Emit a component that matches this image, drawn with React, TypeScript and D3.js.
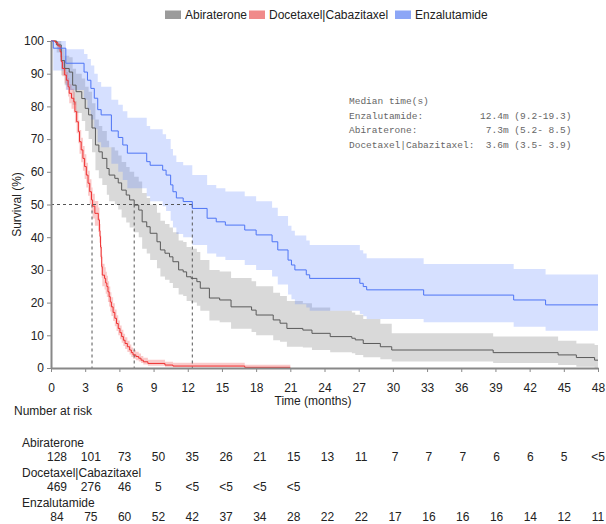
import React, { useEffect, useRef } from 'react';
import * as d3 from 'd3';

// [time (months), survival %, lower CI, upper CI] at each step
const abirateroneKm = [
  [0, 100, 100, 100], [0.5, 98.8, 96.5, 100], [0.9, 94, 89.5, 97.5], [1.2, 91.6, 86.5, 95.5],
  [1.6, 90.5, 85, 95], [1.9, 86.5, 80.5, 91.5], [2.2, 84.5, 78, 90], [2.7, 82.4, 75.5, 88.5],
  [3.0, 79.4, 72.5, 86], [3.3, 77.4, 70, 84.5], [3.6, 73.4, 66, 81], [3.9, 68.2, 60.5, 76],
  [4.2, 66.1, 58, 74], [4.5, 64.1, 56, 72.5], [4.9, 61, 53, 69.5], [5.1, 59, 51, 67.5],
  [5.6, 58, 50, 66.5], [5.9, 56.6, 48.5, 65], [6.2, 54.4, 46, 63], [6.6, 52.9, 44.5, 61.5],
  [6.9, 51.4, 43, 60], [7.3, 49.8, 41.5, 58.5], [7.7, 48.3, 40, 57], [8.0, 44.7, 36.5, 53.5],
  [8.4, 43.2, 35, 52], [8.7, 41.2, 33, 50], [9.3, 38.6, 30.5, 47.5], [9.6, 36.1, 28, 45],
  [10.0, 35.1, 27, 44], [10.4, 34, 26, 43], [10.7, 32.5, 24.5, 41.5], [11.2, 30, 22.5, 39],
  [11.6, 29.4, 22, 38.5], [11.9, 27.9, 20.5, 37], [12.3, 27.4, 20, 36.5], [12.8, 26.4, 19, 35.5],
  [13.1, 24.4, 17.5, 33], [13.9, 21.4, 14.5, 30], [14.8, 20.8, 14, 29.5], [15.8, 18.7, 12, 27.5],
  [17.6, 17.7, 11, 26.5], [18.0, 16.2, 10, 25], [19.5, 14.7, 8.5, 23], [20.1, 13.7, 8, 22],
  [20.7, 12.1, 6.5, 20.5], [22.1, 11.6, 6.3, 19.8], [22.9, 10.6, 5.5, 18.5], [24.5, 9.6, 4.8, 17.5],
  [26.4, 9.1, 4.5, 17], [26.7, 8.6, 4, 16.3], [27.4, 7.5, 3.3, 15], [28.9, 6.5, 2.7, 13.5],
  [29.9, 5.5, 2, 10.6], [38.8, 4.7, 1.5, 9.6], [44.5, 4.0, 0.9, 8.3], [46.1, 3.2, 0.4, 7.5],
  [47.7, 2.4, 0.1, 7],
];
const abirateroneEnd = 48;

const docetaxelKm = [
  [0, 100, 100, 100], [0.4, 99.5, 98.8, 100], [0.6, 98.5, 97.3, 99.4], [0.8, 96.7, 95, 98],
  [0.9, 93.7, 91.5, 95.5], [1.0, 91.6, 89.2, 93.8], [1.2, 89.6, 87, 91.9], [1.35, 88, 85.2, 90.5],
  [1.5, 86, 83, 88.7], [1.6, 84, 81, 86.8], [1.8, 82.5, 79.3, 85.4], [2.0, 81.4, 78, 84.5],
  [2.1, 78.4, 75, 81.6], [2.25, 75.3, 71.8, 78.7], [2.4, 72.3, 68.7, 75.8], [2.5, 69.2, 65.5, 72.8],
  [2.65, 66.7, 62.9, 70.4], [2.8, 64.1, 60.3, 67.9], [2.95, 61.6, 57.8, 65.4], [3.1, 59, 55.2, 62.8],
  [3.25, 56.5, 52.7, 60.3], [3.4, 53.9, 50.1, 57.7], [3.55, 51.4, 47.6, 55.2], [3.65, 49.5, 45.7, 53.3],
  [3.85, 47.3, 43.5, 51.1], [4.15, 45.3, 41.6, 49.1], [4.25, 42, 38.3, 45.8], [4.3, 40.2, 36.5, 44],
  [4.35, 37, 33.4, 40.7], [4.4, 34, 30.4, 37.6], [4.45, 31, 27.5, 34.6], [4.5, 28.4, 25, 31.9],
  [4.7, 27.4, 24, 30.8], [4.8, 26, 22.7, 29.4], [4.9, 24.9, 21.7, 28.2], [5.0, 23.3, 20.2, 26.5],
  [5.1, 21.8, 18.8, 24.9], [5.2, 20.2, 17.3, 23.2], [5.3, 18.7, 15.9, 21.6], [5.45, 17, 14.4, 19.8],
  [5.6, 15.2, 12.8, 17.9], [5.75, 13.6, 11.3, 16.1], [5.9, 12.1, 10, 14.5], [6.05, 10.8, 8.8, 13],
  [6.2, 9.6, 7.7, 11.7], [6.35, 8.5, 6.7, 10.5], [6.5, 7.5, 5.8, 9.4], [6.7, 6.5, 4.9, 8.3],
  [6.9, 5.5, 4.1, 7.2], [7.05, 4.7, 3.4, 6.3], [7.2, 4.0, 2.8, 5.5], [7.45, 3.5, 2.4, 5.0],
  [7.7, 3.0, 2.0, 4.4], [7.9, 2.4, 1.5, 3.7], [8.1, 1.9, 1.1, 3.1], [8.5, 1.4, 0.7, 2.5],
  [10.0, 0.9, 0.4, 1.9], [10.7, 0.6, 0.2, 1.6], [17.0, 0.2, 0, 1.0],
];
const docetaxelEnd = 21;

const enzalutamideKm = [
  [0, 100, 100, 100], [0.2, 97.8, 91, 100], [1.3, 93.2, 85, 97.5], [2.9, 90.5, 82, 96],
  [3.2, 88, 79, 94.5], [3.5, 85.5, 76, 92.5], [3.8, 82.5, 73, 90], [4.1, 79, 69, 87.5],
  [4.4, 77.4, 67.5, 86], [5.3, 72.5, 62.5, 82], [5.9, 70.5, 60, 80.5], [6.3, 68.2, 57.5, 78.5],
  [6.7, 65.7, 55, 76.5], [8.4, 63.1, 52.5, 74], [8.7, 62, 51, 73], [9.8, 60.5, 49.5, 71.5],
  [10.1, 59, 48, 70], [10.5, 56, 45, 67], [10.7, 53.9, 43, 65], [11.0, 52, 41, 63],
  [11.6, 50.9, 40, 62], [12.4, 48.8, 37.6, 59], [13.7, 45.8, 35, 56], [14.5, 44.7, 34, 55],
  [15.3, 43.7, 33, 54], [17.0, 42.2, 31.5, 52.5], [18.0, 40.7, 30, 51], [19.4, 38.6, 28, 49],
  [19.9, 36.1, 25.5, 46.5], [20.8, 33, 22.5, 43.5], [21.1, 31.5, 21, 42], [21.4, 30, 19.5, 40.5],
  [22.4, 28.5, 18.5, 39], [22.7, 27.4, 17.5, 37.6], [27.1, 25.9, 16.5, 36], [27.4, 24.9, 15.8, 35],
  [27.7, 23.9, 15, 33.6], [32.7, 22.3, 14, 31.8], [40.6, 20.8, 12.6, 30.3], [43.4, 19.3, 11.4, 28.6],
];
const enzalutamideEnd = 48;

const medianTimes = [3.6, 7.3, 12.4];
const medianLines = [
  'Median time(s)',
  'Enzalutamide:          12.4m (9.2-19.3)',
  'Abiraterone:            7.3m (5.2- 8.5)',
  'Docetaxel|Cabazitaxel:  3.6m (3.5- 3.9)',
];

const timeTicks = d3.range(0, 49, 3);
const survivalTicks = d3.range(0, 101, 10);

const riskAbiraterone = ['128', '101', '73', '50', '35', '26', '21', '15', '13', '11', '7', '7', '7', '6', '6', '5', '<5'];
const riskDocetaxel = ['469', '276', '46', '5', '<5', '<5', '<5', '<5'];
const riskEnzalutamide = ['84', '75', '60', '52', '42', '37', '34', '28', '22', '22', '17', '16', '16', '16', '14', '12', '11'];

const series = [
  { name: 'Abiraterone', km: abirateroneKm, end: abirateroneEnd, line: '#5a5a5a', band: 'rgba(150,150,150,0.36)', swatch: '#9b9b9b', risk: riskAbiraterone },
  { name: 'Docetaxel|Cabazitaxel', km: docetaxelKm, end: docetaxelEnd, line: '#ee3030', band: 'rgba(240,80,80,0.3)', swatch: '#f08a8a', risk: riskDocetaxel },
  { name: 'Enzalutamide', km: enzalutamideKm, end: enzalutamideEnd, line: '#4d74f5', band: 'rgba(90,130,255,0.25)', swatch: '#8ca6f6', risk: riskEnzalutamide },
];

const FONT = '"Liberation Sans", Arial, sans-serif';

const App = () => {
  const ref = useRef<SVGSVGElement>(null);

  useEffect(() => {
    const svg = d3.select(ref.current);
    svg.selectAll('*').remove();

    const x = d3.scaleLinear().domain([0, 48]).range([51, 598]);
    const y = d3.scaleLinear().domain([0, 100]).range([368, 41]);
    const riskX = d3.scaleLinear().domain([0, 48]).range([57, 598]);

    const withEnd = (km, end) => [...km, [end, ...km[km.length - 1].slice(1)]];

    const band = d3.area()
      .curve(d3.curveStepAfter)
      .x(d => x(d[0]))
      .y0(d => y(d[2]))
      .y1(d => y(d[3]));

    const line = d3.line()
      .curve(d3.curveStepAfter)
      .x(d => x(d[0]))
      .y(d => y(d[1]));

    const plot = svg.append('g');

    series.forEach(s => {
      plot.append('path')
        .attr('d', band(withEnd(s.km, s.end)))
        .attr('fill', s.band);
    });

    // median guides
    plot.append('line')
      .attr('x1', x(0)).attr('x2', x(d3.max(medianTimes)))
      .attr('y1', y(50)).attr('y2', y(50))
      .attr('stroke', '#555').attr('stroke-dasharray', '3,3');
    plot.selectAll('line.med')
      .data(medianTimes)
      .enter()
      .append('line')
      .attr('class', 'med')
      .attr('x1', d => x(d)).attr('x2', d => x(d))
      .attr('y1', y(50)).attr('y2', y(0))
      .attr('stroke', '#555').attr('stroke-dasharray', '3,3');

    series.forEach(s => {
      plot.append('path')
        .attr('d', line(withEnd(s.km, s.end)))
        .attr('fill', 'none')
        .attr('stroke', s.line)
        .attr('stroke-width', 1);
    });

    const styleAxis = g => {
      g.select('.domain').attr('stroke', '#888').attr('stroke-width', 2);
      g.selectAll('.tick line').attr('stroke', '#888');
      g.selectAll('.tick text').attr('fill', '#222').attr('font-size', 12).attr('font-family', FONT);
    };

    svg.append('g')
      .attr('transform', `translate(0,${y(0)})`)
      .call(d3.axisBottom(x).tickValues(timeTicks).tickSize(4).tickSizeOuter(0).tickPadding(11))
      .call(styleAxis);

    svg.append('g')
      .attr('transform', `translate(${x(0)},0)`)
      .call(d3.axisLeft(y).tickValues(survivalTicks).tickSize(4).tickSizeOuter(0).tickPadding(3))
      .call(styleAxis);

    svg.append('text')
      .attr('x', 313).attr('y', 405)
      .attr('text-anchor', 'middle')
      .attr('font-size', 12).attr('font-family', FONT).attr('fill', '#222')
      .text('Time (months)');

    svg.append('text')
      .attr('transform', `translate(21,${y(50)}) rotate(-90)`)
      .attr('text-anchor', 'middle')
      .attr('font-size', 12).attr('font-family', FONT).attr('fill', '#222')
      .text('Survival (%)');

    // legend
    const legendX = [165, 249, 395];
    const legend = svg.append('g');
    series.forEach((s, i) => {
      legend.append('rect')
        .attr('x', legendX[i]).attr('y', 10.5)
        .attr('width', 16).attr('height', 8.5)
        .attr('fill', s.swatch);
      legend.append('text')
        .attr('x', legendX[i] + 20).attr('y', 19)
        .attr('font-size', 12).attr('font-family', FONT).attr('fill', '#222')
        .text(s.name);
    });

    // median box
    svg.append('g')
      .selectAll('text')
      .data(medianLines)
      .enter()
      .append('text')
      .attr('x', 349)
      .attr('y', (d, i) => 104 + i * 14.7)
      .attr('font-size', 9.5)
      .attr('font-family', '"Liberation Mono", "Courier New", monospace')
      .attr('fill', '#666')
      .style('white-space', 'pre')
      .text(d => d);

    // number at risk
    svg.append('text')
      .attr('x', 14).attr('y', 415)
      .attr('font-size', 12).attr('font-family', FONT).attr('fill', '#222')
      .text('Number at risk');

    series.forEach((s, i) => {
      const top = 447 + i * 30;
      svg.append('text')
        .attr('x', 22).attr('y', top)
        .attr('font-size', 12).attr('font-family', FONT).attr('fill', '#222')
        .text(s.name);
      svg.append('g')
        .selectAll('text')
        .data(s.risk)
        .enter()
        .append('text')
        .attr('x', (d, j) => riskX(timeTicks[j]))
        .attr('y', top + 14)
        .attr('text-anchor', 'middle')
        .attr('font-size', 12).attr('font-family', FONT).attr('fill', '#222')
        .text(d => d);
    });
  }, []);

  return (
    <svg
      ref={ref}
      width={606}
      height={524}
      style={{ position: 'absolute', left: 0, top: 0, background: '#fff' }}
    />
  );
};

export default App;
